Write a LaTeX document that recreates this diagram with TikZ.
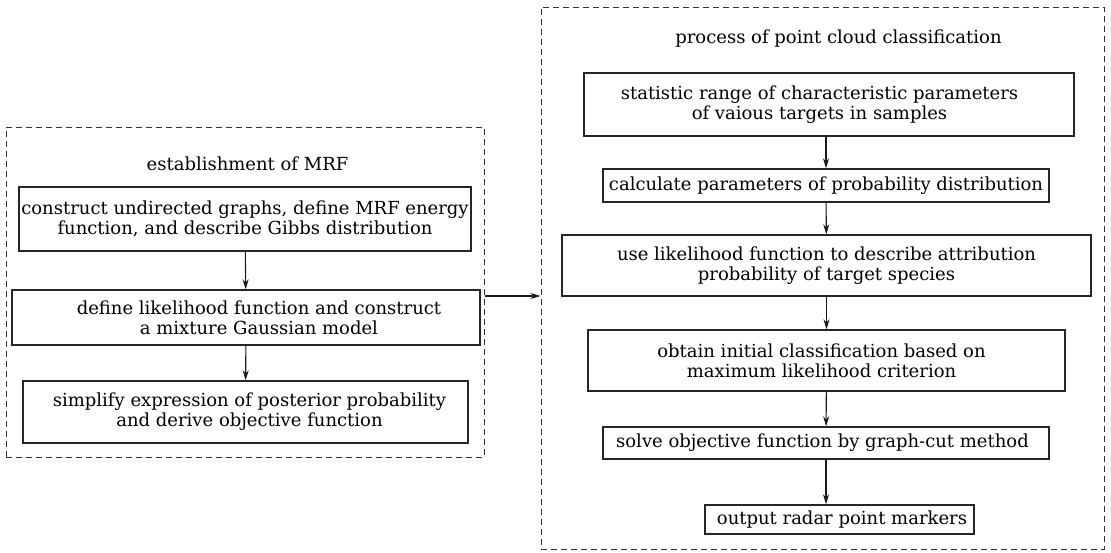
\documentclass[tikz,border=0pt]{standalone}
\usepackage{fontspec}
\setmainfont{DejaVu Serif}
\usetikzlibrary{arrows.meta}
\begin{document}
\begin{tikzpicture}[x=1pt,y=-1pt,
  font=\fontsize{18}{20}\selectfont,
  stepbox/.style={draw=black!85, line width=1.4pt, align=center, inner sep=0pt},
  frame/.style={draw=black!80, line width=1pt, dash pattern=on 6pt off 4pt, inner sep=0pt},
  flow/.style={-{Stealth[length=10pt,width=6pt]}, line width=1.1pt, black!90}]
\useasboundingbox (0,0) rectangle (1111,552);

% left part
\node (L) at (245,292) [frame,minimum width=478,minimum height=330]{};
\node (Lt) at (247.5,164){establishment of MRF};
\node (L1) at (245,219) [stepbox,minimum width=452,minimum height=64]{construct undirected graphs, define MRF energy\\function, and describe Gibbs distribution};
\node (L2) at (246,317.5) [stepbox,minimum width=468,minimum height=55]{};
\node (L2txt) at (259,317.5) [align=center]{define likelihood function and construct\\a mixture Gaussian model};
\node (L3) at (245.5,412) [stepbox,minimum width=445,minimum height=62]{};
\node (L3txt) at (249.5,412) [align=center]{simplify expression of posterior probability\\and derive objective function};

% right part
\node (R) at (822.5,278) [frame,minimum width=563,minimum height=542]{};
\node (Rt) at (838.5,39){process of point cloud classification};
\node (R1) at (829,104.5) [stepbox,minimum width=490,minimum height=63]{};
\node (R1txt) at (819.5,104.5) [align=center]{statistic range of characteristic parameters\\of vaious targets in samples};
\node (R2) at (826,185.5) [stepbox,minimum width=446,minimum height=33]{calculate parameters of probability distribution};
\node (R3) at (826.5,265.5) [stepbox,minimum width=529,minimum height=61]{use likelihood function to describe attribution\\probability of target species};
\node (R4) at (826.5,360.5) [stepbox,minimum width=477,minimum height=61]{};
\node (R4txt) at (821.5,360.5) [align=center]{obtain initial classification based on\\maximum likelihood criterion};
\node (R5) at (826,443) [stepbox,minimum width=446,minimum height=32]{};
\node (R5txt) at (822.5,443) {solve objective function by graph-cut method};
\node (R6) at (839.5,519.5) [stepbox,minimum width=269,minimum height=29]{};
\node (R6txt) at (842,519.5) {output radar point markers};

\draw[flow] (L1)--(L2);
\draw[flow] (L2)--(L3);
\draw[flow] ([yshift=-4pt]L.east)--([yshift=-4pt]L.east -| R.west);

\draw[flow] (R1.south -| R2)--(R2);
\draw[flow] (R2)--(R3);
\draw[flow] (R3)--(R4);
\draw[flow] (R4)--(R5);
\draw[flow] (R5.south)--(R5.south |- R6.north);
\end{tikzpicture}
\end{document}
